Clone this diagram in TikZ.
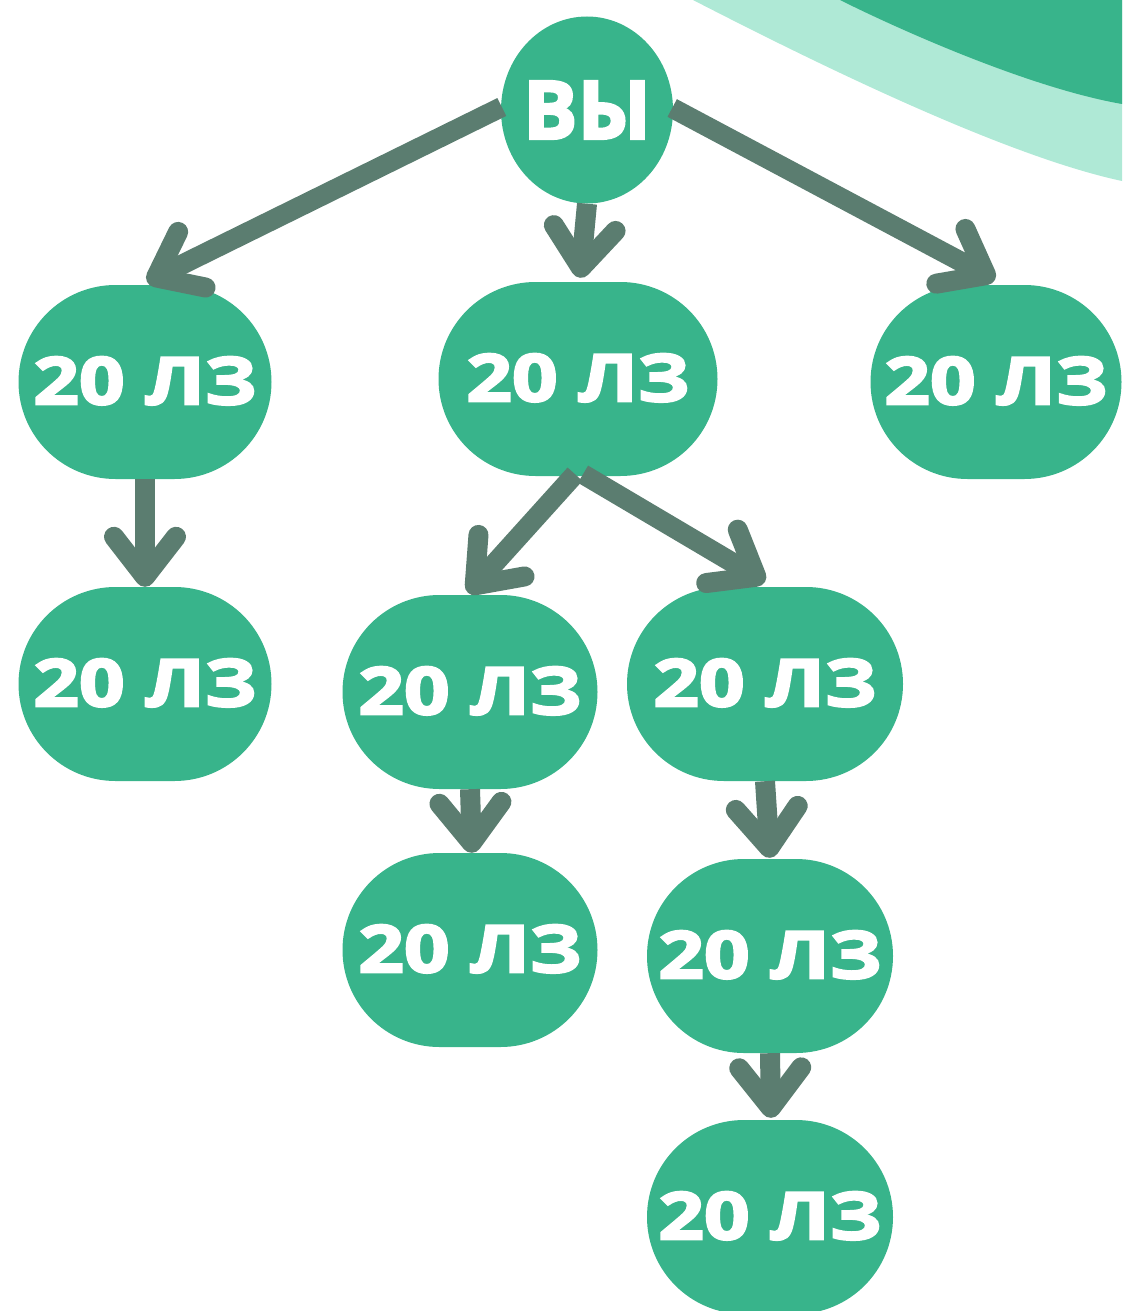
\documentclass[tikz,border=0pt]{standalone}
\usepackage{fontspec}
\usepackage{graphicx}
\setmainfont{Open Sans}[BoldFeatures={FakeBold=3}]
\usetikzlibrary{arrows.meta,calc,shapes.geometric}
\definecolor{nodegreen}{HTML}{38B48B}
\definecolor{lightgreen}{HTML}{AFE9D6}
\definecolor{arrowgray}{HTML}{5B7D70}
\newcommand{\lz}{\makebox[0pt]{\raisebox{3pt}{\scalebox{1.21}[1]{\fontsize{66}{70}\selectfont\bfseries 20 ЛЗ}}}}
\tikzset{
  pill/.style={rectangle, rounded corners=97pt, fill=nodegreen, text=white,
    minimum height=194pt, inner sep=0pt},
  vynode/.style={ellipse, fill=nodegreen, text=white, minimum width=172pt,
    minimum height=187pt, inner sep=0pt},
  arr/.style={draw=arrowgray, line width=20pt,
    -{Straight Barb[round, length=40pt, width=62pt]}}
}
\begin{document}
\begin{tikzpicture}[x=1pt,y=-1pt]
\useasboundingbox (0,0) rectangle (1122,1311);
\clip (0,0) rectangle (1122,1311);
% decorative swoosh
\fill[lightgreen] (693,0) .. controls (800,55) and (1000,155) .. (1122,181) -- (1122,0) -- cycle;
\fill[nodegreen] (840,0) .. controls (900,30) and (1030,88) .. (1122,104) -- (1122,0) -- cycle;
% nodes
\node[vynode] (vy) at (587,110) {\makebox[0pt]{\fontsize{81}{85}\selectfont\bfseries ВЫ}};
\node[pill, minimum width=253pt] (a) at (145,382) {\lz};
\node[pill, minimum width=279pt] (b) at (578,379) {\lz};
\node[pill, minimum width=251pt] (c) at (996,382) {\lz};
\node[pill, minimum width=253pt] (d) at (145,684) {\lz};
\node[pill, minimum width=255pt] (e) at (470,692) {\lz};
\node[pill, minimum width=276pt] (f) at (765,684) {\lz};
\node[pill, minimum width=255pt] (g) at (470,950) {\lz};
\node[pill, minimum width=246pt] (h) at (770,956) {\lz};
\node[pill, minimum width=246pt] (i) at (770,1217) {\lz};
% tip coordinates
\coordinate (ta) at ($(a.north)+(2,-3)$);
\coordinate (tb) at ($(b.north)+(2,-4)$);
\coordinate (tc) at ($(c.north)+(-1,-5)$);
\coordinate (td) at (d.north);
\coordinate (te) at ($(e.north)+(-2,-2)$);
\coordinate (tf) at ($(f.north)+(0,-5)$);
\coordinate (tg) at ($(g.north)+(2,0)$);
\coordinate (th) at ($(h.north)+(0,-1)$);
\coordinate (ti) at ($(i.north)+(1,-2)$);
\coordinate (sa) at ($(vy.west)+(1,-3)$);
\coordinate (sc) at ($(vy.east)+(-1,-2)$);
\coordinate (sbl) at ($(b.south)+(-3,-2)$);
\coordinate (sbr) at ($(b.south)+(5,-2)$);
% connectors
\draw[arr] (sa) -- (ta);
\draw[arr] (vy.south) -- (tb);
\draw[arr] (sc) -- (tc);
\draw[arr] (a.south) -- (td);
\draw[arr] (sbl) -- (te);
\draw[arr] (sbr) -- (tf);
\draw[arr] (e.south) -- (tg);
\draw[arr] (f.south) -- (th);
\draw[arr] (h.south) -- (ti);
\end{tikzpicture}
\end{document}
